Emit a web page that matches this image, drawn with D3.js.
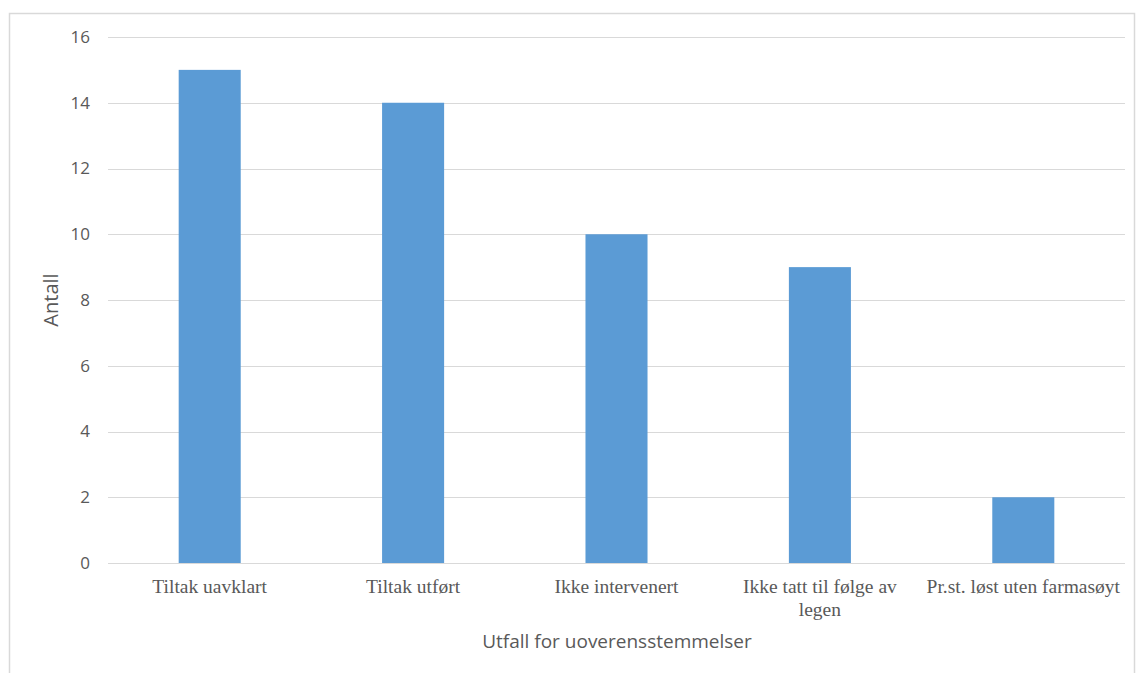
<!DOCTYPE html>
<html>
<head>
<meta charset="utf-8">
<script src="https://cdn.jsdelivr.net/npm/d3@7"></script>
<style>
  body { margin: 0; background: #fff; }
  svg { display: block; }
</style>
</head>
<body>
<svg id="chart" width="1137" height="673"></svg>
<script>
// Outcomes of discrepancies and their counts
const categories = [
  "Tiltak uavklart",
  "Tiltak utført",
  "Ikke intervenert",
  "Ikke tatt til følge av legen",
  "Pr.st. løst uten farmasøyt"
];
const values = [15, 14, 10, 9, 2];
const yTicks = [0, 2, 4, 6, 8, 10, 12, 14, 16];

const svg = d3.select("#chart");
const plot = { left: 108, right: 1125, top: 37, bottom: 563 };

// chart frame
svg.append("rect")
  .attr("x", 9.5).attr("y", 13.5)
  .attr("width", 1125).attr("height", 700)
  .attr("fill", "#fff").attr("stroke", "#d9d9d9").attr("stroke-width", 1.5);

const x = d3.scaleBand()
  .domain(categories)
  .range([plot.left, plot.right])
  .paddingInner(0.695)
  .paddingOuter(0.3475);

const y = d3.scaleLinear()
  .domain([0, 16])
  .range([plot.bottom, plot.top]);

// gridlines
svg.append("g")
  .selectAll("line")
  .data(yTicks)
  .join("line")
  .attr("x1", plot.left).attr("x2", plot.right)
  .attr("y1", d => Math.round(y(d)) + 0.5)
  .attr("y2", d => Math.round(y(d)) + 0.5)
  .attr("stroke", "#d9d9d9").attr("stroke-width", 1);

// y axis labels
const yAxis = d3.axisLeft(y).tickValues(yTicks).tickSize(0).tickPadding(0);
const gy = svg.append("g")
  .attr("transform", `translate(${plot.left - 18},0)`)
  .call(yAxis);
gy.select(".domain").remove();
gy.selectAll("text")
  .attr("fill", "#595959")
  .style("font-family", "'Open Sans', 'Noto Sans', sans-serif")
  .style("font-size", "17px");

// bars
svg.append("g")
  .selectAll("rect")
  .data(values)
  .join("rect")
  .attr("x", (d, i) => x(categories[i]))
  .attr("width", x.bandwidth())
  .attr("y", d => y(d))
  .attr("height", d => y(0) - y(d))
  .attr("fill", "#5b9bd5");

// category labels (wrapped to fit the band)
const gx = svg.append("g");
categories.forEach((c, i) => {
  const cx = x(c) + x.bandwidth() / 2;
  const lines = c === "Ikke tatt til følge av legen"
    ? ["Ikke tatt til følge av", "legen"] : [c];
  const t = gx.append("text")
    .attr("x", cx).attr("y", 593)
    .attr("text-anchor", "middle")
    .attr("fill", "#595959")
    .style("font-family", "'Liberation Serif', 'Times New Roman', serif")
    .style("font-size", "19.5px");
  lines.forEach((l, k) => {
    t.append("tspan").attr("x", cx).attr("dy", k === 0 ? 0 : 23).text(l);
  });
});

// axis titles
svg.append("text")
  .attr("transform", "translate(58,300) rotate(-90)")
  .attr("text-anchor", "middle")
  .attr("fill", "#595959")
  .style("font-family", "'Open Sans', 'Noto Sans', sans-serif")
  .style("font-size", "20px")
  .text("Antall");

svg.append("text")
  .attr("x", 617).attr("y", 648)
  .attr("text-anchor", "middle")
  .attr("fill", "#595959")
  .style("font-family", "'Open Sans', 'Noto Sans', sans-serif")
  .style("font-size", "19px")
  .text("Utfall for uoverensstemmelser");
</script>
</body>
</html>
